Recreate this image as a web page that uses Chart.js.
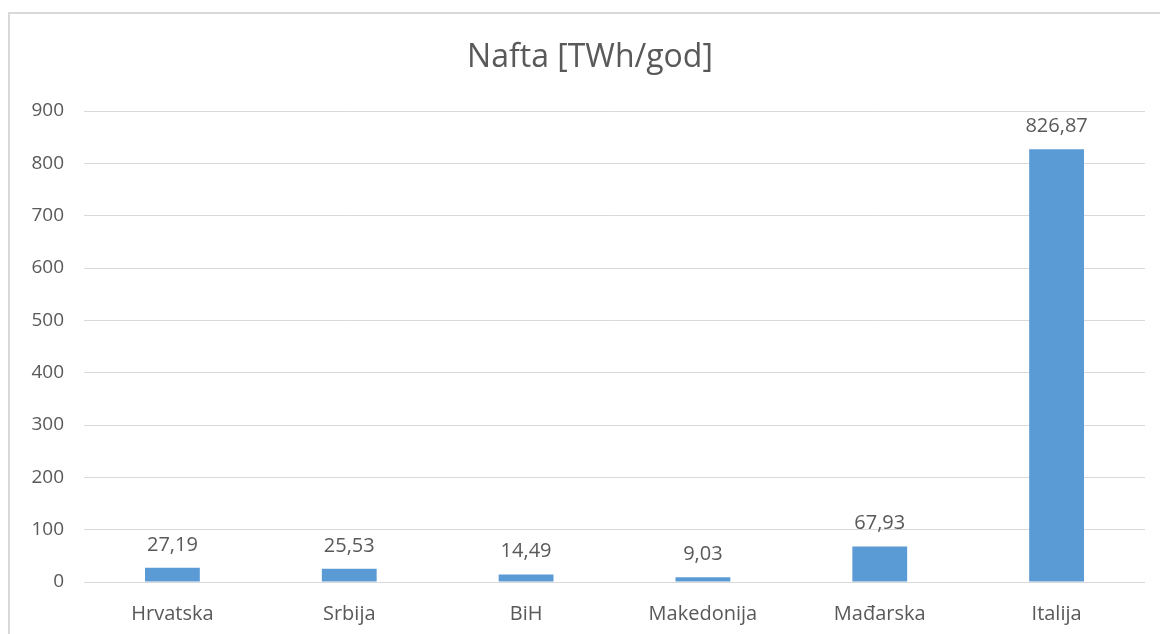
<!DOCTYPE html>
<html>
<head>
<meta charset="utf-8">
<script src="https://cdn.jsdelivr.net/npm/chart.js@4/dist/chart.umd.min.js"></script>
<style>
    html, body { margin: 0; padding: 0; background: #fff; }
    #wrap { position: relative; width: 1160px; height: 634px; }
    #frame { position: absolute; left: 8px; top: 12px; width: 1170px; height: 640px; border: 2px solid #d9d9d9; box-sizing: border-box; }
</style>
</head>
<body>
<div id="wrap">
    <div id="frame"></div>
    <canvas id="nafta_chart" width="1160" height="634"></canvas>
</div>
<script>
"use strict";

// --- data ---
const chartTitle = 'Nafta [TWh/god]';
const categories = ['Hrvatska', 'Srbija', 'BiH', 'Makedonija', 'Mađarska', 'Italija'];
const naftaValues = [27.19, 25.53, 14.49, 9.03, 67.93, 826.87];
const yTicks = [0, 100, 200, 300, 400, 500, 600, 700, 800, 900];

const textColor = '#595959';
const fontFamily = '"Open Sans", "Noto Sans", sans-serif';

//naslov (centriran na cijelom okviru grafikona, ne samo na platnu)
const titleText = {
    id: 'titleText',
    afterDraw(chart) {
        const ctx = chart.ctx;
        ctx.save();
        ctx.font = '32px ' + fontFamily;
        ctx.fillStyle = textColor;
        ctx.textAlign = 'center';
        ctx.textBaseline = 'middle';
        ctx.fillText(chartTitle, 590, 58);
        ctx.restore();
    }
};

//vrijednosti iznad stupaca
const valueLabels = {
    id: 'valueLabels',
    afterDatasetsDraw(chart) {
        const ctx = chart.ctx;
        const meta = chart.getDatasetMeta(0);
        ctx.save();
        ctx.font = '20px ' + fontFamily;
        ctx.fillStyle = textColor;
        ctx.textAlign = 'center';
        ctx.textBaseline = 'alphabetic';
        meta.data.forEach(function(bar, i){
            const txt = naftaValues[i].toFixed(2).replace('.', ',');
            ctx.fillText(txt, bar.x, bar.y - 17);
        });
        ctx.restore();
    }
};

const config = {
    type: 'bar',
    data: {
        labels: categories,
        datasets: [{
            label: 'Nafta',
            data: naftaValues,
            backgroundColor: '#5b9bd5',
            borderWidth: 0,
            barPercentage: 0.31,
            categoryPercentage: 1,
        }]
    },
    options: {
        responsive: false,
        animation: false,
        layout: {
            padding: { top: 111, left: 8, right: 15, bottom: 0 },
        },
        scales: {
            x: {
                grid: { display: false, drawTicks: false },
                border: { display: false },
                ticks: {
                    color: textColor,
                    padding: 20,
                    font: { family: fontFamily, size: 20 },
                },
                afterFit(scale) { scale.height = 52; },
            },
            y: {
                min: 0,
                max: 900,
                afterBuildTicks(scale) {
                    scale.ticks = yTicks.map(v => ({ value: v }));
                },
                grid: { color: '#d9d9d9', lineWidth: 1, drawTicks: false },
                border: { display: false },
                ticks: {
                    color: textColor,
                    padding: 20,
                    font: { family: fontFamily, size: 19 },
                },
                afterFit(scale) { scale.width = 76; },
            },
        },
        plugins: {
            legend: { display: false },
            tooltip: { enabled: false },
            title: { display: false },
        },
    },
    plugins: [valueLabels, titleText],
};

let naftaChart = new Chart(document.getElementById('nafta_chart'), config);
</script>
</body>
</html>
